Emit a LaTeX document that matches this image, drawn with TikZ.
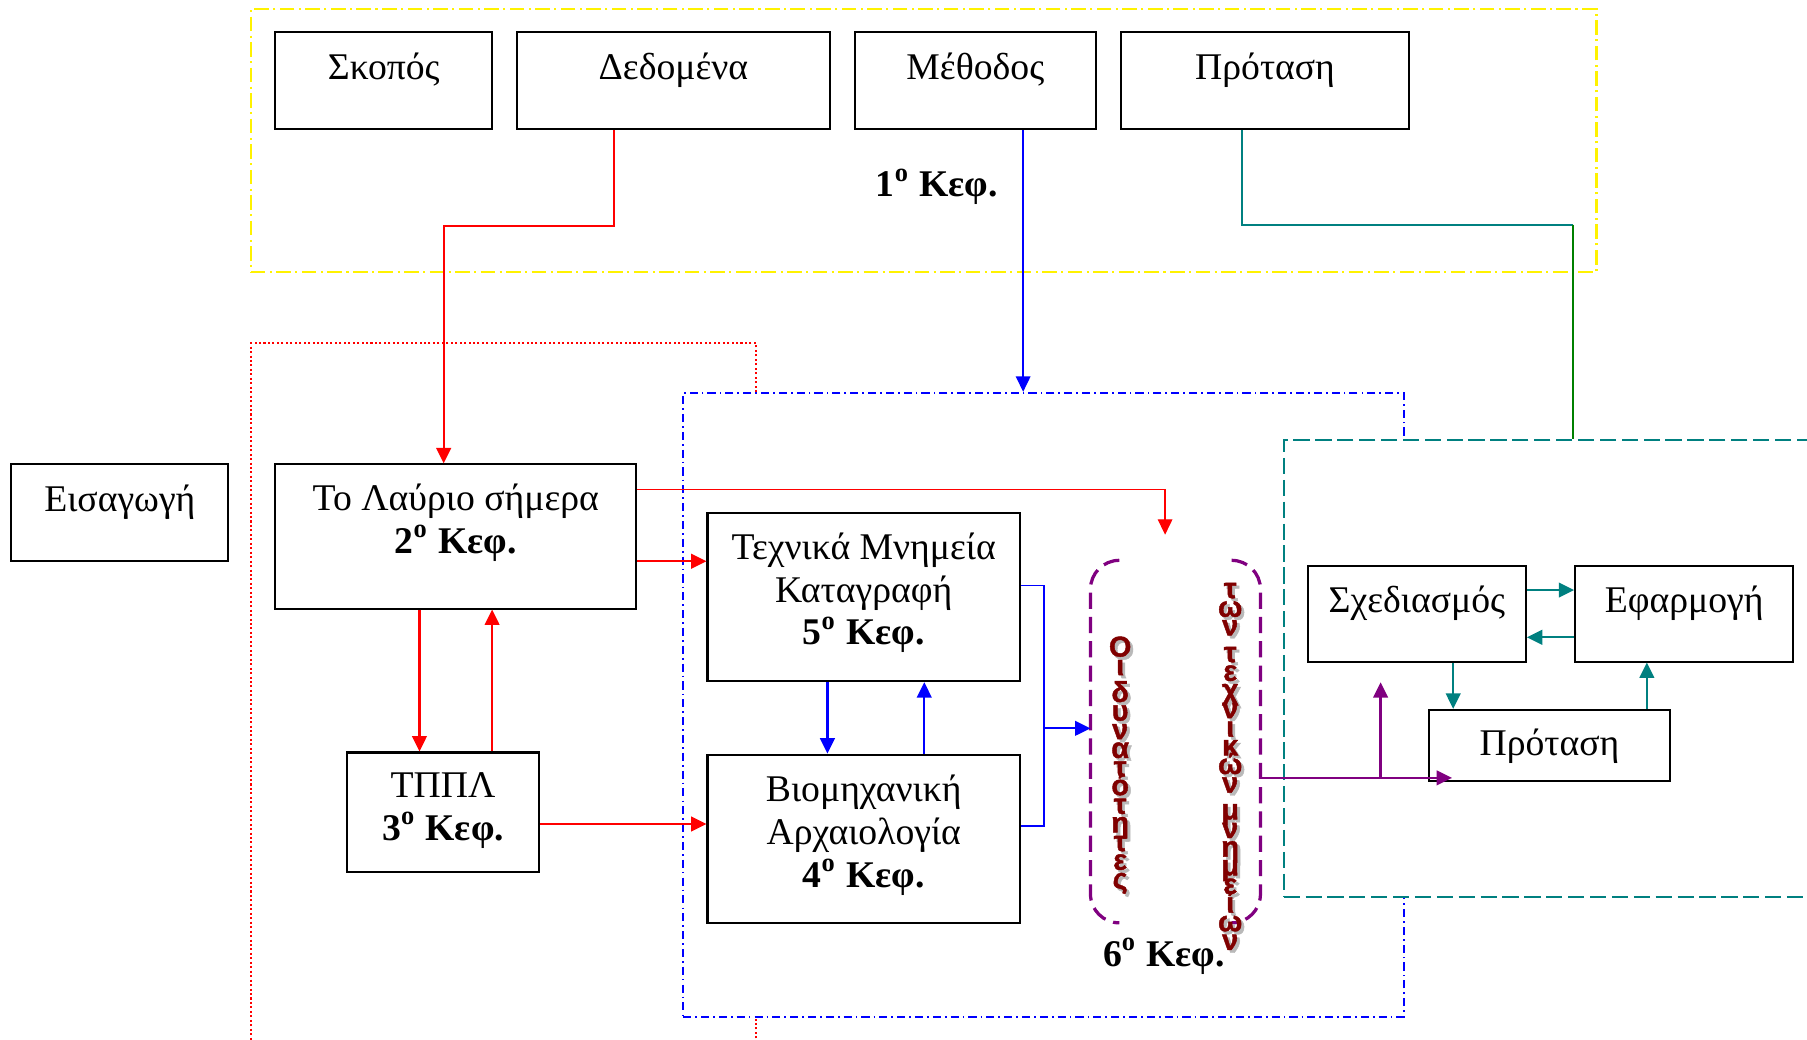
\documentclass[tikz,border=0pt]{standalone}
\usepackage{fontspec}
\setmainfont{Liberation Serif}
\newfontfamily\artfont{Liberation Sans}[BoldFeatures={FakeBold=1.5}]
\usetikzlibrary{arrows.meta, positioning, calc}

\definecolor{plum}{RGB}{128,0,128}
\definecolor{maroon}{RGB}{128,0,0}
\definecolor{darkgreen}{RGB}{0,128,0}

\newcommand{\dynletters}{Ο\\ι\\[2pt]δ\\υ\\ν\\α\\τ\\ό\\τ\\η\\τ\\ε\\ς}
\newcommand{\mnimletters}{τ\\ω\\ν\\[2pt]τ\\ε\\χ\\ν\\ι\\κ\\ώ\\ν\\[2pt]μ\\ν\\η\\μ\\ε\\ί\\ω\\ν}

\begin{document}
\begin{tikzpicture}[
    x=0.01cm, y=-0.01cm,
    font=\fontsize{9.3}{10.5}\selectfont,
    >={Triangle[length=3.8pt,width=3.6pt]},
    chbox/.style={
        rectangle,
        draw=black,
        line width=0.5pt,
        align=center,
        inner sep=0pt,
        text height=7pt
    },
    titlebox/.style={
        chbox,
        minimum height=0.84cm,
        text depth=7.8pt
    },
    groupframe/.style={
        rectangle,
        line width=0.5pt,
        inner sep=0pt
    },
    arrowline/.style={->, line width=0.55pt},
    stack/.style={
        align=center,
        inner sep=0pt,
        font={\artfont\bfseries\fontsize{7.1}{4.6}\selectfont\lineskiplimit=-10pt\relax\lineskip=0pt\relax}
    },
    bracket/.style={
        plum,
        line width=0.8pt,
        dash pattern=on 4pt off 2pt,
        rounded corners=0.25cm
    }
]
    \useasboundingbox (0,0) rectangle (1568,902);

    % chapter frames
    \node[groupframe, draw=red, dash pattern=on 0.5pt off 0.6pt, minimum width=4.38cm, minimum height=6.52cm] (ch3_frame) at (437,624) {};
    \node[groupframe, draw=blue, fill=white, dash pattern=on 2pt off 1pt on 0.4pt off 1pt, minimum width=6.25cm, minimum height=5.41cm] (ch5_frame) at (905.5,611.5) {};
    \node[groupframe, draw=teal, fill=white, dash pattern=on 4pt off 1.4pt, minimum width=5.06cm, minimum height=3.96cm] (ch6_frame) at (1367,580) {};
    \node[groupframe, draw=yellow, dash pattern=on 3.6pt off 1.1pt on 0.5pt off 1.1pt, minimum width=11.67cm, minimum height=2.28cm] (ch1_frame) at (801.5,122) {};

    % TOP ROW
    \node[titlebox, minimum width=1.88cm] (skopos_box) at (333,70) {Σκοπός};
    \node[titlebox, minimum width=2.71cm, right=0.2cm of skopos_box] (dedomena_box) {Δεδομένα};
    \node[titlebox, minimum width=2.09cm, right=0.2cm of dedomena_box] (methodos_box) {Μέθοδος};
    \node[titlebox, minimum width=2.5cm, right=0.2cm of methodos_box] (protasi_box) {Πρόταση};
    \node[font=\fontsize{9.3}{10.5}\selectfont\bfseries] (kef1_label) at (813,162) {1\textsuperscript{o} Κεφ.};

    % chapters 2 to 5
    \node[titlebox, minimum width=1.88cm] (eisagogi_box) at (104,445) {Εισαγωγή};
    \node[chbox, minimum width=3.13cm, minimum height=1.25cm, text height=17.5pt, text depth=9.3pt] (lavrio_box) at (395.5,465.5) {Το Λαύριο σήμερα\\\textbf{2\textsuperscript{o} Κεφ.}};
    \node[chbox, minimum width=1.67cm, minimum height=1.04cm, text height=17.5pt, text depth=3.9pt] (tppl_box) at (384.5,705) {ΤΠΠΛ\\\textbf{3\textsuperscript{o} Κεφ.}};
    \node[chbox, minimum width=2.71cm, minimum height=1.46cm, text height=28pt, text depth=4.4pt] (texnika_box) at (749.5,518) {Τεχνικά Μνημεία\\Καταγραφή\\\textbf{5\textsuperscript{o} Κεφ.}};
    \node[chbox, minimum width=2.71cm, minimum height=1.46cm, text height=28pt, text depth=4.2pt, below=0.62cm of texnika_box] (viomix_box) {Βιομηχανική\\Αρχαιολογία\\\textbf{4\textsuperscript{o} Κεφ.}};

    % chapter 6
    \node[minimum width=1.46cm, minimum height=3.13cm, inner sep=0pt] (dyn_box) at (1020,643.5) {};
    \draw[bracket] ([xshift=0.25cm]dyn_box.north west) -- (dyn_box.north west) -- (dyn_box.south west) -- ([xshift=0.25cm]dyn_box.south west);
    \draw[bracket] ([xshift=-0.25cm]dyn_box.north east) -- (dyn_box.north east) -- (dyn_box.south east) -- ([xshift=-0.25cm]dyn_box.south east);
    \node[stack, text=gray!55] (dyn_shadow) at (974.5,666.5) {\dynletters};
    \node[stack, text=maroon] (dyn_text) at (972,664) {\dynletters};
    \node[stack, text=gray!55] (mnim_shadow) at (1070,667.5) {\mnimletters};
    \node[stack, text=maroon] (mnim_text) at (1067.5,665) {\mnimletters};
    \node[font=\fontsize{9.3}{10.5}\selectfont\bfseries] (kef6_label) at (1010,830) {6\textsuperscript{o} Κεφ.};

    % proposal
    \node[titlebox, minimum width=1.89cm, minimum height=0.83cm] (sxedias_box) at (1229.5,532.5) {Σχεδιασμός};
    \node[titlebox, minimum width=1.89cm, minimum height=0.83cm, right=0.41cm of sxedias_box] (efarmogi_box) {Εφαρμογή};
    \node[chbox, minimum width=2.09cm, minimum height=0.62cm, text depth=2pt] (protasi_low_box) at (1344.5,647) {Πρόταση};

    \coordinate (red_end) at (1011,464);
    \coordinate (blue_join) at (906,632);
    \coordinate (purple_end) at (1260,675);
    \coordinate (purple_up) at (1198,592);
    \coordinate (green_join) at (1365,195);

    % red arrows
    \draw[arrowline, red] ([xshift=-5.15mm]dedomena_box.south) -- ++(0,83) -| ([xshift=-1.05mm]lavrio_box.north);
    \draw[->, red, line width=0.3pt] ([yshift=4.05mm]lavrio_box.east) -| (red_end);
    \draw[arrowline, red] ([yshift=-2.15mm]lavrio_box.east) -- ([yshift=-2.15mm]lavrio_box.east -| texnika_box.west);
    \draw[arrowline, red] ([xshift=-3.15mm]lavrio_box.south) -- ([xshift=-3.15mm]lavrio_box.south |- tppl_box.north);
    \draw[arrowline, red] ([xshift=4.25mm]tppl_box.north) -- ([xshift=4.25mm]tppl_box.north |- lavrio_box.south);
    \draw[arrowline, red] ([yshift=-1mm]tppl_box.east) -- ([yshift=-1mm]tppl_box.east -| viomix_box.west);

    % blue arrows
    \draw[->, blue, line width=0.35pt] ([xshift=4.15mm]methodos_box.south) -- ([xshift=4.15mm]methodos_box.south |- ch5_frame.north);
    \draw[arrowline, blue] ([xshift=-3.15mm]texnika_box.south) -- ([xshift=-3.15mm]texnika_box.south |- viomix_box.north);
    \draw[arrowline, blue] ([xshift=5.25mm]viomix_box.north) -- ([xshift=5.25mm]viomix_box.north |- texnika_box.south);
    \draw[blue, line width=0.45pt] ([yshift=1mm]texnika_box.east) -| (blue_join);
    \draw[blue, line width=0.45pt] ([yshift=1.1mm]viomix_box.east) -| (blue_join);
    \draw[arrowline, blue] (blue_join) -- (blue_join -| dyn_box.west);

    % purple arrows
    \draw[arrowline, plum] (dyn_box.east |- purple_end) -- (purple_end);
    \draw[arrowline, plum] (purple_up |- purple_end) -- (purple_up);

    % teal arrows
    \draw[arrowline, teal] ([yshift=2.05mm]sxedias_box.east) -- ([yshift=2.05mm]sxedias_box.east -| efarmogi_box.west);
    \draw[arrowline, teal] ([yshift=-2.05mm]efarmogi_box.west) -- ([yshift=-2.05mm]efarmogi_box.west -| sxedias_box.east);
    \draw[arrowline, teal] ([xshift=3.15mm]sxedias_box.south) -- ([xshift=3.15mm]sxedias_box.south |- protasi_low_box.north);
    \draw[arrowline, teal] ([xshift=8.45mm]protasi_low_box.north) -- ([xshift=8.45mm]protasi_low_box.north |- efarmogi_box.south);
    \draw[teal, line width=0.4pt] ([xshift=-2mm]protasi_box.south) |- (green_join);
    \draw[darkgreen, line width=0.5pt] (green_join) -- (green_join |- ch6_frame.north);
\end{tikzpicture}
\end{document}
